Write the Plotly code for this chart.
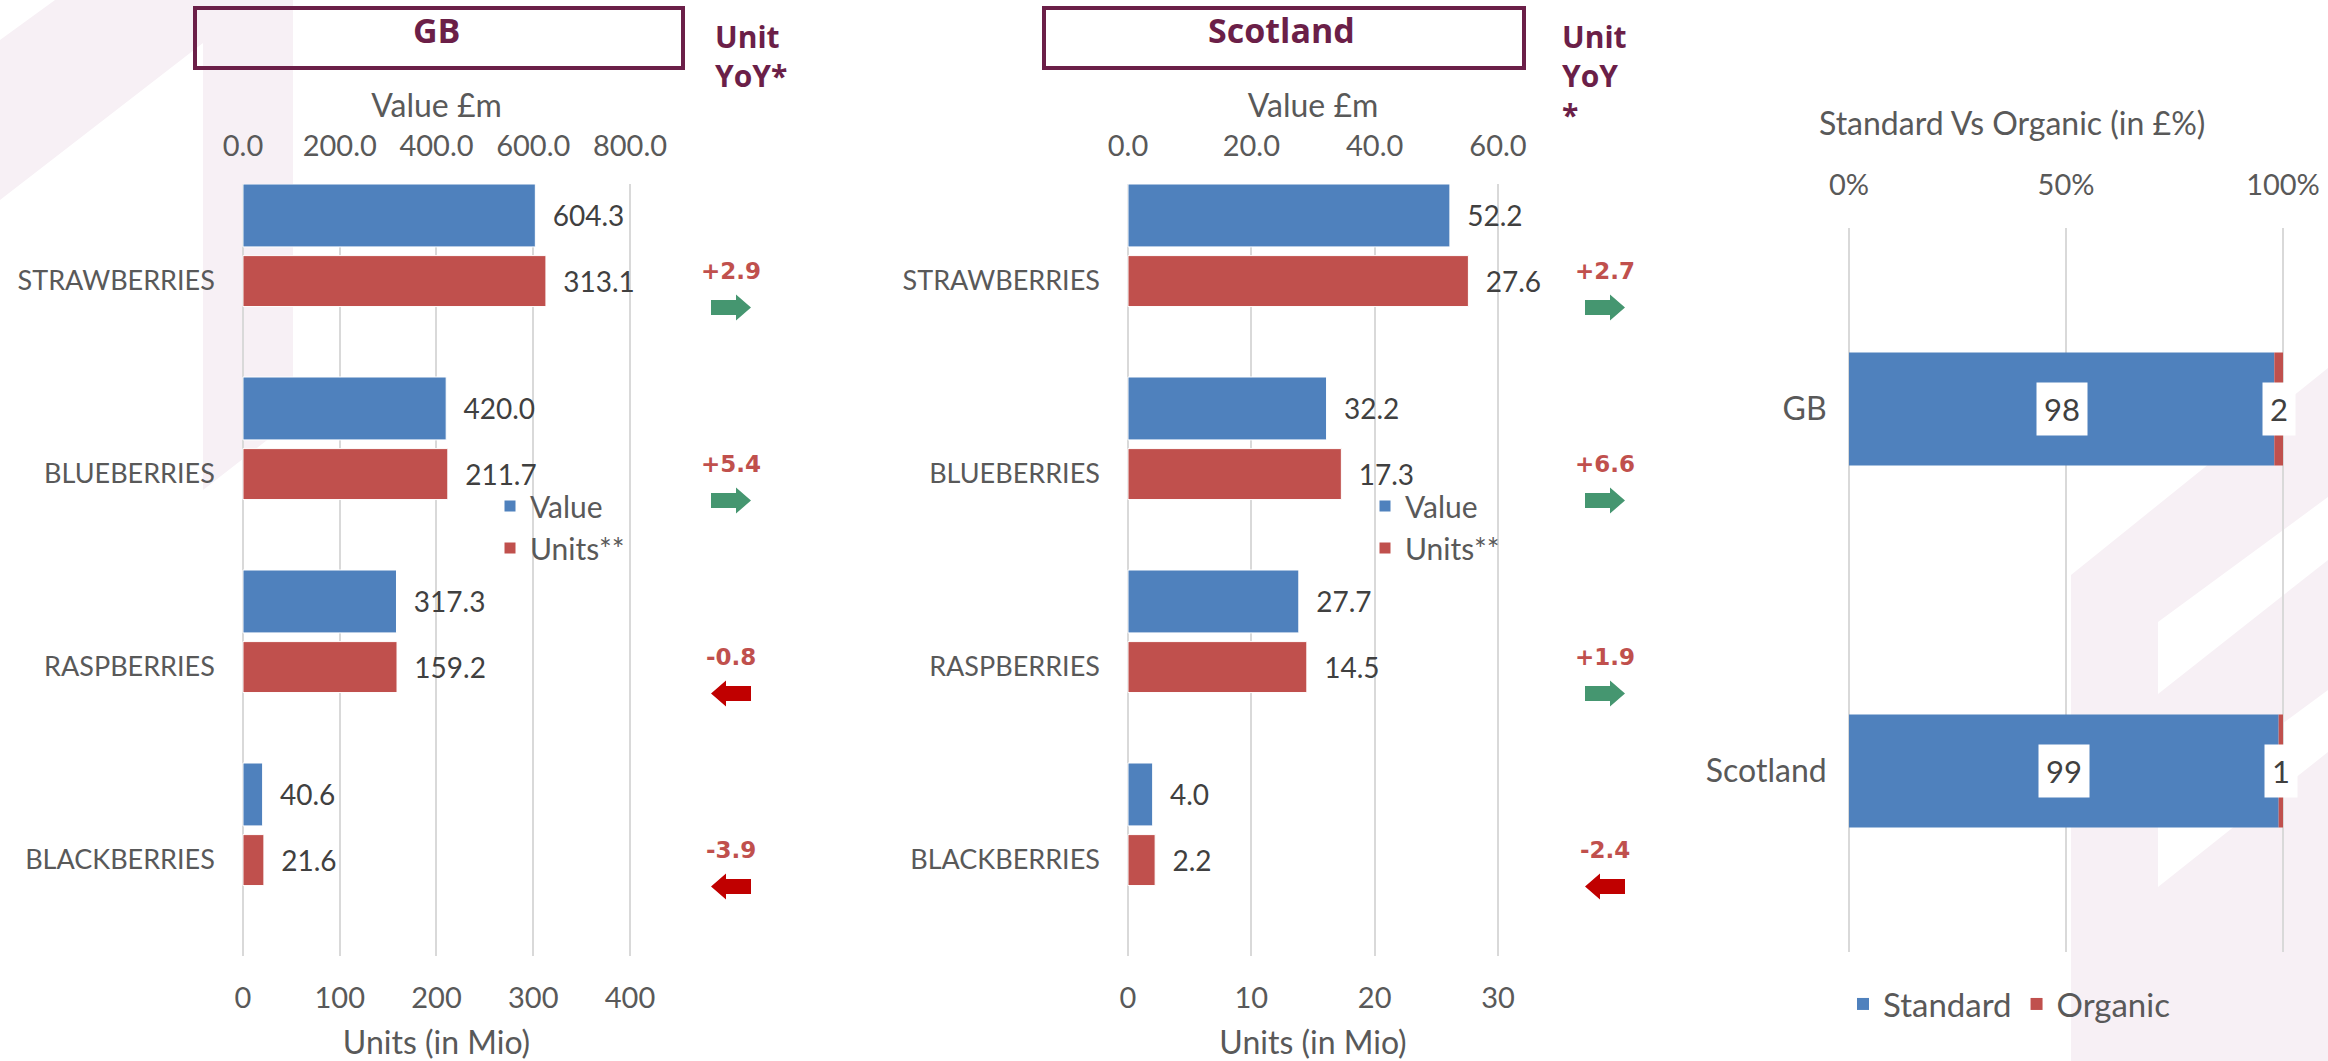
import plotly.graph_objects as go

W, H = 2328, 1061

# ---------------- data ----------------
categories = ["STRAWBERRIES", "BLUEBERRIES", "RASPBERRIES", "BLACKBERRIES"]
gb_value = [604.3, 420.0, 317.3, 40.6]
gb_units = [313.1, 211.7, 159.2, 21.6]
gb_yoy = [2.9, 5.4, -0.8, -3.9]
sc_value = [52.2, 32.2, 27.7, 4.0]
sc_units = [27.6, 17.3, 14.5, 2.2]
sc_yoy = [2.7, 6.6, 1.9, -2.4]
regions = ["GB", "Scotland"]
standard_pct = [98, 99]
organic_pct = [2, 1]

gb_value_ticks = [0, 200, 400, 600, 800]
gb_units_ticks = [0, 100, 200, 300, 400]
sc_value_ticks = [0, 20, 40, 60]
sc_units_ticks = [0, 10, 20, 30]
pct_ticks = [0, 50, 100]
pct_ticktext = ["0%", "50%", "100%"]

# ---------------- style ----------------
BLUE = "#4f81bd"
RED = "#c0504d"
MAROON = "#6b1f48"
GREEN_ARROW = "#459670"
RED_ARROW = "#c00000"
GRID = "#d9d9d9"
TICK = "#595959"
LABEL = "#404040"
PINK = "#f7f0f5"
FONT = "Lato"
BOLD_FONT = "Open Sans"


def px(x):
    return x / W


def py(y):
    return 1 - y / H


def dom_range(x0, x1, lo, hi, frac=0.003):
    """Domain (paper) and range slightly widened so edge gridlines are drawn."""
    pad = (hi - lo) * frac
    scale = (x1 - x0) / (hi - lo)
    return [px(x0 - pad * scale), px(x1 + pad * scale)], [lo - pad, hi + pad]


idx = list(range(len(categories)))
ridx = list(range(len(regions)))
VAL_OFF, VAL_W = -0.337, 0.326
UNI_OFF, UNI_W = 0.003, 0.264
PAD = "\u00a0\u00a0"

gb_dom, gb_urange = dom_range(243, 630, gb_units_ticks[0], gb_units_ticks[-1])
_, gb_vrange = dom_range(243, 630, gb_value_ticks[0], gb_value_ticks[-1])
sc_dom, sc_urange = dom_range(1128, 1498, sc_units_ticks[0], sc_units_ticks[-1])
_, sc_vrange = dom_range(1128, 1498, sc_value_ticks[0], sc_value_ticks[-1])
pc_dom, pc_range = dom_range(1849, 2283, pct_ticks[0], pct_ticks[-1])

fig = go.Figure()

bar_text = dict(textposition="outside", textfont=dict(size=28, color=LABEL, family=FONT),
                cliponaxis=False, constraintext="none", hoverinfo="x")

# GB bars
fig.add_trace(go.Bar(
    orientation="h", x=gb_value, y=[k + VAL_OFF for k in idx], width=VAL_W,
    xaxis="x2", yaxis="y", marker=dict(color=BLUE, line=dict(color="white", width=1)),
    name="Value", legend="legend", text=[PAD + f"{v:.1f}" for v in gb_value], **bar_text))
fig.add_trace(go.Bar(
    orientation="h", x=gb_units, y=[k + UNI_OFF for k in idx], width=UNI_W,
    xaxis="x", yaxis="y", marker=dict(color=RED, line=dict(color="white", width=1)),
    name="Units**", legend="legend", text=[PAD + f"{v:.1f}" for v in gb_units], **bar_text))

# Scotland bars
fig.add_trace(go.Bar(
    orientation="h", x=sc_value, y=[k + VAL_OFF for k in idx], width=VAL_W,
    xaxis="x4", yaxis="y2", marker=dict(color=BLUE, line=dict(color="white", width=1)),
    name="Value", legend="legend2", text=[PAD + f"{v:.1f}" for v in sc_value], **bar_text))
fig.add_trace(go.Bar(
    orientation="h", x=sc_units, y=[k + UNI_OFF for k in idx], width=UNI_W,
    xaxis="x3", yaxis="y2", marker=dict(color=RED, line=dict(color="white", width=1)),
    name="Units**", legend="legend2", text=[PAD + f"{v:.1f}" for v in sc_units], **bar_text))

# Standard vs organic
fig.add_trace(go.Bar(
    orientation="h", x=standard_pct, y=ridx, width=0.312, xaxis="x5", yaxis="y3",
    marker=dict(color=BLUE, line=dict(width=0)), name="Standard", legend="legend3",
    hoverinfo="x"))
fig.add_trace(go.Bar(
    orientation="h", x=organic_pct, base=standard_pct, y=ridx, width=0.312, xaxis="x5", yaxis="y3",
    marker=dict(color=RED, line=dict(width=0)), name="Organic", legend="legend3",
    hoverinfo="x"))

tickfont = dict(size=29, color=TICK, family=FONT)
titlefont = dict(size=32, color=TICK, family=FONT)
catfont = dict(size=27, color=TICK, family=FONT)

common_x = dict(showline=False, zeroline=False, ticks="", fixedrange=True, automargin=False)
common_y = dict(showgrid=False, zeroline=False, showline=False, ticks="", fixedrange=True,
                automargin=False)

y_dom = [py(956), py(184)]

fig.update_layout(
    width=W, height=H, margin=dict(l=0, r=0, t=0, b=0, autoexpand=False),
    paper_bgcolor="white", plot_bgcolor="rgba(0,0,0,0)",
    barmode="overlay", font=dict(family=FONT, color=TICK),
    xaxis=dict(domain=gb_dom, anchor="y", range=gb_urange, tickvals=gb_units_ticks,
               showgrid=True, gridcolor=GRID, gridwidth=2, tickfont=tickfont,
               ticklabelstandoff=22,
               title=dict(text="Units (in Mio)", font=titlefont, standoff=18), **common_x),
    xaxis2=dict(overlaying="x", side="top", anchor="y", range=gb_vrange, tickvals=gb_value_ticks,
                tickformat=".1f", showgrid=False, tickfont=tickfont, ticklabelstandoff=21,
                title=dict(text="Value £m", font=titlefont, standoff=0), **common_x),
    yaxis=dict(domain=y_dom, anchor="x", range=[3.5, -0.5], tickvals=idx, ticktext=categories,
               tickfont=catfont, ticklabelstandoff=26, **common_y),
    xaxis3=dict(domain=sc_dom, anchor="y2", range=sc_urange, tickvals=sc_units_ticks,
                showgrid=True, gridcolor=GRID, gridwidth=2, tickfont=tickfont, ticklabelstandoff=22,
                title=dict(text="Units (in Mio)", font=titlefont, standoff=18), **common_x),
    xaxis4=dict(overlaying="x3", side="top", anchor="y2", range=sc_vrange, tickvals=sc_value_ticks,
                tickformat=".1f", showgrid=False, tickfont=tickfont, ticklabelstandoff=21,
                title=dict(text="Value £m", font=titlefont, standoff=0), **common_x),
    yaxis2=dict(domain=y_dom, anchor="x3", range=[3.5, -0.5], tickvals=idx, ticktext=categories,
                tickfont=catfont, ticklabelstandoff=26, **common_y),
    xaxis5=dict(domain=pc_dom, anchor="y3", side="top", range=pc_range,
                tickvals=pct_ticks, ticktext=pct_ticktext, showgrid=True, gridcolor=GRID,
                gridwidth=2, tickfont=tickfont, ticklabelstandoff=26, **common_x),
    yaxis3=dict(domain=[py(952), py(228)], anchor="x5", range=[1.5, -0.5], tickvals=ridx,
                ticktext=regions, tickfont=dict(size=32, color=TICK, family=FONT),
                ticklabelstandoff=20, **common_y),
    legend=dict(x=px(490), y=py(480), xanchor="left", yanchor="top", bgcolor="rgba(0,0,0,0)",
                font=dict(size=30, color=TICK, family=FONT), itemclick=False, tracegroupgap=0),
    legend2=dict(x=px(1365), y=py(480), xanchor="left", yanchor="top", bgcolor="rgba(0,0,0,0)",
                 font=dict(size=30, color=TICK, family=FONT), itemclick=False, tracegroupgap=0),
    legend3=dict(x=px(1843), y=py(1004), xanchor="left", yanchor="middle", orientation="h",
                 bgcolor="rgba(0,0,0,0)", font=dict(size=33, color=TICK, family=FONT),
                 itemclick=False),
)

annotations = []
shapes = []

# Background watermark (decorative)
def poly(points, color):
    path = "M " + " L ".join(f"{px(x):.5f},{py(y):.5f}" for x, y in points) + " Z"
    return dict(type="path", xref="paper", yref="paper", path=path, fillcolor=color,
                line=dict(width=0), layer="below")

shapes.append(poly([(0, 40), (55, 0), (293, 0), (293, 420), (203, 490), (203, 43), (0, 200)], PINK))
shapes.append(poly([(2071, 1061), (2071, 575), (2328, 368), (2328, 1061)], PINK))
shapes.append(poly([(2158, 622), (2328, 497), (2328, 560), (2158, 694)], "white"))
shapes.append(poly([(2158, 815), (2328, 690), (2328, 752), (2158, 887)], "white"))

# Header boxes
for x0, x1 in [(195, 683), (1044, 1524)]:
    shapes.append(dict(type="rect", xref="paper", yref="paper", x0=px(x0), x1=px(x1),
                       y0=py(68), y1=py(8), line=dict(color=MAROON, width=4),
                       fillcolor="rgba(0,0,0,0)"))

hdr_font = dict(family=BOLD_FONT, size=34, color=MAROON)
annotations.append(dict(text="<b>GB</b>", x=px(436), y=py(30), xref="paper", yref="paper",
                        xanchor="center", yanchor="middle", showarrow=False, font=hdr_font))
annotations.append(dict(text="<b>Scotland</b>", x=px(1281), y=py(30), xref="paper", yref="paper",
                        xanchor="center", yanchor="middle", showarrow=False, font=hdr_font))
yoy_hdr_font = dict(family=BOLD_FONT, size=30, color=MAROON)
annotations.append(dict(text="<b>Unit<br>YoY*</b>", x=px(713), y=py(14), xref="paper",
                        yref="paper", xanchor="left", yanchor="top", align="left",
                        showarrow=False, font=yoy_hdr_font))
annotations.append(dict(text="<b>Unit<br>YoY<br>*</b>", x=px(1560), y=py(14), xref="paper",
                        yref="paper", xanchor="left", yanchor="top", align="left",
                        showarrow=False, font=yoy_hdr_font))

# YoY values and arrows
def arrow_path(direction):
    d = 1 if direction > 0 else -1
    pts = [(-20, -7.5), (5, -7.5), (5, -13), (20, 0), (5, 13), (5, 7.5), (-20, 7.5)]
    return "M " + " L ".join(f"{d * x},{y}" for x, y in pts) + " Z"

for yoy, yref, xc in [(gb_yoy, "y", 731), (sc_yoy, "y2", 1605)]:
    for k, v in enumerate(yoy):
        annotations.append(dict(text=f"<b>{v:+.1f}</b>", x=px(xc), y=k - 0.05, xref="paper",
                                yref=yref, xanchor="center", yanchor="middle", showarrow=False,
                                font=dict(family="DejaVu Sans", size=23, color=RED)))
        shapes.append(dict(type="path", xref="paper", yref=yref, xanchor=px(xc), yanchor=k + 0.14,
                           xsizemode="pixel", ysizemode="pixel", path=arrow_path(v),
                           fillcolor=GREEN_ARROW if v > 0 else RED_ARROW, line=dict(width=0)))

# Right chart title
annotations.append(dict(text="Standard Vs Organic (in £%)", x=px(2012), y=py(123), xref="paper",
                        yref="paper", xanchor="center", yanchor="middle", showarrow=False,
                        font=titlefont))

# Percent labels with white boxes
for i in ridx:
    s, o = standard_pct[i], organic_pct[i]
    annotations.append(dict(text=str(s), x=s / 2, y=i, xref="x5", yref="y3", showarrow=False,
                            xanchor="center", yanchor="middle", bgcolor="white", borderpad=7,
                            font=dict(size=31, color=LABEL, family=FONT)))
    annotations.append(dict(text=str(o), x=s + o / 2, y=i, xref="x5", yref="y3", showarrow=False,
                            xanchor="center", yanchor="middle", bgcolor="white", borderpad=7,
                            font=dict(size=31, color=LABEL, family=FONT)))

fig.update_layout(annotations=annotations, shapes=shapes)

fig.write_html("out.html", config={"displayModeBar": False},
               post_script="document.body.style.margin='0';document.body.style.overflow='hidden';")
